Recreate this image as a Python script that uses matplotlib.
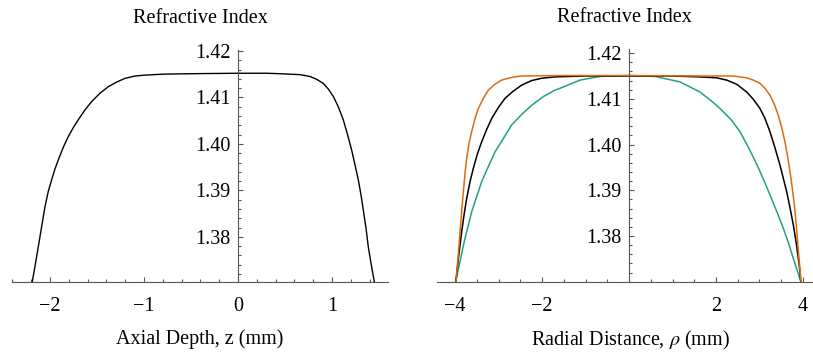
import numpy as np
import matplotlib
matplotlib.use("Agg")
import matplotlib.pyplot as plt
from matplotlib.ticker import MultipleLocator, FixedLocator

# values
axial_z = [-2.188, -2.16, -2.124, -2.089, -2.053, -2.018, -1.982, -1.947, -1.911, -1.858,
           -1.805, -1.752, -1.699, -1.628, -1.557, -1.468, -1.38, -1.291, -1.202, -1.096,
           -0.989, -0.8, -0.5, 0.0, 0.3, 0.447, 0.66, 0.766, 0.837, 0.908, 0.961, 1.014,
           1.067, 1.12, 1.167, 1.209, 1.245, 1.28, 1.309, 1.333, 1.362, 1.386, 1.418, 1.45]
axial_n = [1.3704, 1.3736, 1.3779, 1.3822, 1.3865, 1.3898, 1.3923, 1.3946, 1.3966, 1.3993,
           1.4016, 1.4035, 1.4052, 1.4073, 1.4091, 1.4109, 1.4123, 1.4133, 1.4141, 1.4146,
           1.4148, 1.4150, 1.4151, 1.4152, 1.4152, 1.4151, 1.4149, 1.4145, 1.4139, 1.4130,
           1.4118, 1.4102, 1.4080, 1.4052, 1.4019, 1.3987, 1.3955, 1.3923, 1.3890, 1.3858,
           1.3819, 1.3779, 1.3740, 1.3704]

rho_black = [-3.977, -3.923, -3.885, -3.847, -3.793, -3.732, -3.655, -3.579, -3.487, -3.387,
             -3.272, -3.157, -3.004, -2.851, -2.659, -2.467, -2.237, -2.008, -1.701, -1.0,
             0.0, 1.0, 1.632, 2.015, 2.245, 2.475, 2.705, 2.858, 3.011, 3.126, 3.241, 3.356,
             3.471, 3.548, 3.625, 3.701, 3.778, 3.839, 3.893, 3.931, 3.946]
n_black = [1.3702, 1.3751, 1.3780, 1.3809, 1.3846, 1.3882, 1.3919, 1.3948, 1.3979, 1.4006,
           1.4033, 1.4057, 1.4081, 1.4101, 1.4117, 1.4130, 1.4140, 1.4145, 1.4148, 1.4150,
           1.4150, 1.4150, 1.4148, 1.4146, 1.4141, 1.4132, 1.4115, 1.4099, 1.4079, 1.4057,
           1.4028, 1.3993, 1.3955, 1.3926, 1.3897, 1.3862, 1.3824, 1.3788, 1.3751, 1.3722,
           1.3702]

rho_orange = [-3.977, -3.939, -3.908, -3.885, -3.847, -3.808, -3.77, -3.732, -3.678, -3.617,
              -3.54, -3.464, -3.349, -3.234, -3.08, -2.927, -2.697, -2.467, -1.5, 0.0,
              1.632, 2.398, 2.705, 2.858, 3.011, 3.126, 3.241, 3.341, 3.433, 3.51, 3.586,
              3.648, 3.701, 3.755, 3.801, 3.839, 3.87, 3.908, 3.954]
n_orange = [1.3702, 1.3744, 1.3780, 1.3809, 1.3853, 1.3897, 1.3937, 1.3970, 1.4003, 1.4028,
            1.4057, 1.4079, 1.4101, 1.4119, 1.4132, 1.4141, 1.4147, 1.4150, 1.4151, 1.4151,
            1.4150, 1.4150, 1.4146, 1.4141, 1.4134, 1.4123, 1.4108, 1.4088, 1.4064, 1.4037,
            1.4006, 1.3973, 1.3941, 1.3904, 1.3868, 1.3831, 1.3795, 1.3751, 1.3702]

rho_green = [-3.977, -3.939, -3.885, -3.831, -3.77, -3.693, -3.617, -3.502, -3.387, -3.234,
             -3.08, -2.889, -2.697, -2.467, -2.237, -1.969, -1.701, -1.586, -1.126, -0.667,
             0.0, 0.6, 1.172, 1.632, 1.9, 2.092, 2.36, 2.552, 2.75, 2.936, 3.1, 3.241, 3.4,
             3.547, 3.67, 3.777, 3.87, 3.947]
n_green = [1.3702, 1.3722, 1.3744, 1.3769, 1.3795, 1.3824, 1.3853, 1.3886, 1.3919, 1.3952,
           1.3984, 1.4013, 1.4043, 1.4066, 1.4086, 1.4105, 1.4119, 1.4123, 1.4141, 1.4149,
           1.4151, 1.4149, 1.4137, 1.4115, 1.4095, 1.4079, 1.4053, 1.4028, 1.3993, 1.3957,
           1.3922, 1.3890, 1.3853, 1.3817, 1.3784, 1.3751, 1.3724, 1.3702]

left_xticks = [-2, -1, 0, 1]
left_xlabels = ["\u22122", "\u22121", "0", "1"]
right_xticks = [-4, -2, 2, 4]
right_xlabels = ["\u22124", "\u22122", "2", "4"]
yticks = [1.38, 1.39, 1.40, 1.41, 1.42]

plt.rcParams['font.family'] = ['Liberation Serif', 'DejaVu Serif']
plt.rcParams['mathtext.fontset'] = 'stix'
FS = 14.5
AXCOL = '#555555'


def style_axis(ax, xticks, xlabels, xminor, xlim, ylim):
    ax.set_xlim(*xlim)
    ax.set_ylim(*ylim)
    for s in ['top', 'right']:
        ax.spines[s].set_visible(False)
    ax.spines['left'].set_position(('data', 0))
    for s in ['left', 'bottom']:
        ax.spines[s].set_color(AXCOL)
        ax.spines[s].set_linewidth(0.8)
    ax.xaxis.set_major_locator(FixedLocator(xticks))
    ax.xaxis.set_minor_locator(MultipleLocator(xminor))
    ax.set_xticklabels(xlabels)
    ax.yaxis.set_major_locator(FixedLocator(yticks))
    ax.yaxis.set_minor_locator(MultipleLocator(0.002))
    ax.set_yticklabels(["%.2f" % v for v in yticks])
    ax.tick_params(which='both', direction='in', color=AXCOL, width=0.8, labelsize=FS)
    ax.tick_params(which='major', length=3.5)
    ax.tick_params(which='minor', length=2)
    ax.tick_params(axis='x', pad=11)
    ax.tick_params(axis='y', pad=5.5)
    ax.set_title("Refractive Index", fontsize=FS, pad=19.5)


fig = plt.figure(figsize=(8.13, 3.55), dpi=100)
ax1 = fig.add_axes([12 / 813, 73 / 355, 376 / 813, 232 / 355])
ax2 = fig.add_axes([437 / 813, 73 / 355, 375 / 813, 233 / 355])

ax1.plot(axial_z, axial_n, color='black', lw=1.0)
style_axis(ax1, left_xticks, left_xlabels, 0.2, (-2.404, 1.596), (1.3703, 1.4202))
ax1.set_xlabel("Axial Depth, z (mm)", fontsize=FS, labelpad=9)

ax2.plot(rho_green, n_green, color='#1FA381', lw=1.1)
ax2.plot(rho_black, n_black, color='black', lw=1.1)
ax2.plot(rho_orange, n_orange, color='#DE6A10', lw=1.1)
style_axis(ax2, right_xticks, right_xlabels, 0.5, (-4.414, 4.207), (1.36995, 1.4209))
ax2.set_xlabel(r"Radial Distance, $\rho$ (mm)", fontsize=FS, labelpad=9)
ax2.xaxis.label.set_x(0.515)

fig.savefig("out.png", dpi=100)
